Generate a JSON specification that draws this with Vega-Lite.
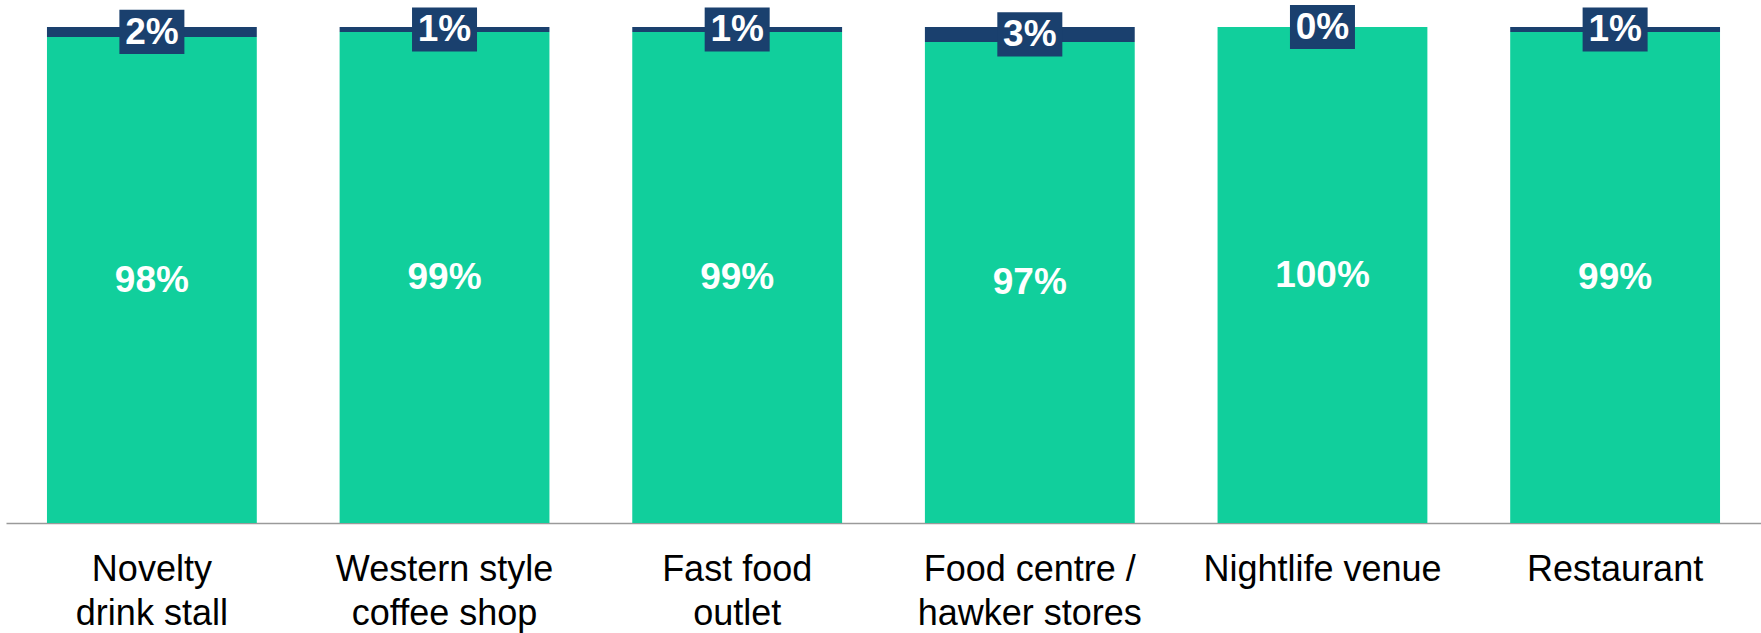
{
  "$schema": "https://vega.github.io/schema/vega-lite/v6.json",
  "autosize": {"type": "none"},
  "padding": {"left": 6, "top": 27, "right": 0, "bottom": 110},
  "width": 1755,
  "height": 496,
  "background": "white",
  "config": {"view": {"stroke": null}, "font": "Liberation Sans"},
  "data": {
    "values": [
      {"category": "Novelty drink stall", "series": "Yes", "value": 0.98},
      {"category": "Novelty drink stall", "series": "No", "value": 0.02},
      {"category": "Western style coffee shop", "series": "Yes", "value": 0.99},
      {"category": "Western style coffee shop", "series": "No", "value": 0.01},
      {"category": "Fast food outlet", "series": "Yes", "value": 0.99},
      {"category": "Fast food outlet", "series": "No", "value": 0.01},
      {"category": "Food centre / hawker stores", "series": "Yes", "value": 0.97},
      {"category": "Food centre / hawker stores", "series": "No", "value": 0.03},
      {"category": "Nightlife venue", "series": "Yes", "value": 1.0},
      {"category": "Nightlife venue", "series": "No", "value": 0.0},
      {"category": "Restaurant", "series": "Yes", "value": 0.99},
      {"category": "Restaurant", "series": "No", "value": 0.01}
    ]
  },
  "transform": [
    {"calculate": "datum.series === 'Yes' ? 0 : 1", "as": "ord"},
    {"stack": "value", "groupby": ["category"], "sort": [{"field": "ord", "order": "ascending"}], "as": ["y0", "y1"]},
    {"calculate": "(datum.y0 + datum.y1) / 2", "as": "mid"}
  ],
  "encoding": {
    "x": {
      "field": "category",
      "type": "nominal",
      "sort": null,
      "scale": {"paddingInner": 0.283, "paddingOuter": 0.14},
      "axis": {
        "title": null,
        "labelAngle": 0,
        "ticks": false,
        "domainColor": "#9a9a9a",
        "domainWidth": 1.5,
        "labelFont": "Liberation Sans",
        "labelFontSize": 36,
        "labelColor": "#000000",
        "labelPadding": 29,
        "labelLineHeight": 44,
        "labelBaseline": "top",
        "labelLimit": 400,
        "labelExpr": "datum.value == 'Novelty drink stall' ? ['Novelty', 'drink stall'] : datum.value == 'Western style coffee shop' ? ['Western style', 'coffee shop'] : datum.value == 'Fast food outlet' ? ['Fast food', 'outlet'] : datum.value == 'Food centre / hawker stores' ? ['Food centre /', 'hawker stores'] : datum.value"
      }
    }
  },
  "layer": [
    {
      "mark": {"type": "bar"},
      "encoding": {
        "y": {"field": "y0", "type": "quantitative", "scale": {"domain": [0, 1], "nice": false}, "axis": null},
        "y2": {"field": "y1"},
        "color": {
          "field": "series",
          "type": "nominal",
          "scale": {"domain": ["Yes", "No"], "range": ["#11cf9c", "#1a406e"]},
          "legend": null
        }
      }
    },
    {
      "transform": [{"filter": "datum.series === 'No'"}],
      "mark": {
        "type": "point",
        "filled": true,
        "opacity": 1,
        "color": "#1a406e",
        "shape": "M-1,-0.68L1,-0.68L1,0.68L-1,0.68Z",
        "size": 4225
      },
      "encoding": {
        "y": {"field": "mid", "type": "quantitative", "scale": {"domain": [0, 1], "nice": false}, "axis": null}
      }
    },
    {
      "mark": {
        "type": "text",
        "color": "white",
        "font": "Liberation Sans",
        "fontWeight": "bold",
        "fontSize": 37,
        "baseline": "middle",
        "align": "center",
        "dy": 1
      },
      "encoding": {
        "y": {"field": "mid", "type": "quantitative", "scale": {"domain": [0, 1], "nice": false}, "axis": null},
        "text": {"field": "value", "type": "quantitative", "format": ".0%"}
      }
    }
  ]
}
